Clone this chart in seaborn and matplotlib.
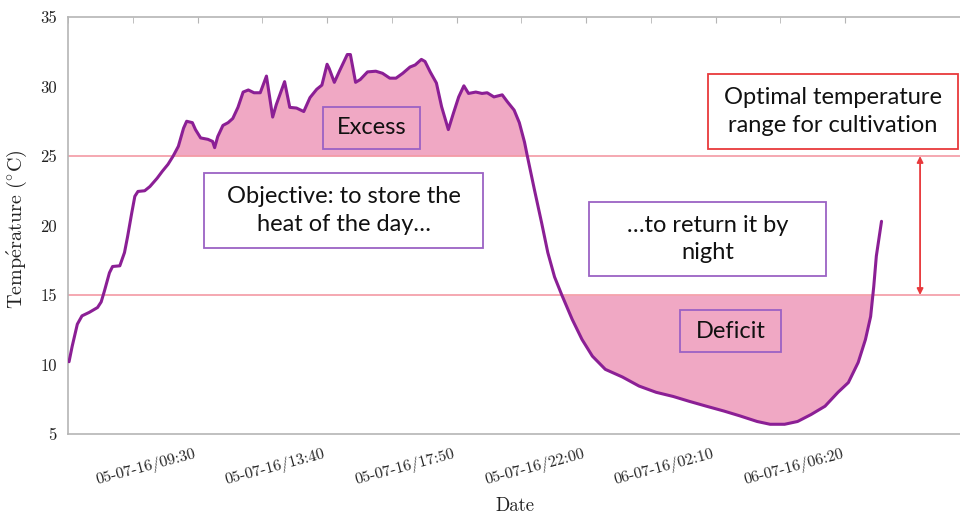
import matplotlib
matplotlib.use("Agg")
import matplotlib.pyplot as plt
import matplotlib.dates as mdates
from matplotlib.patches import Rectangle
from matplotlib.ticker import MultipleLocator
import seaborn as sns
import pandas as pd
import numpy as np

# measured greenhouse temperature, 05-07-16 morning -> 06-07-16 morning
times = [
    "2016-07-05 05:22", "2016-07-05 05:28", "2016-07-05 05:38", "2016-07-05 05:47",
    "2016-07-05 06:01", "2016-07-05 06:17", "2016-07-05 06:24", "2016-07-05 06:30",
    "2016-07-05 06:40", "2016-07-05 06:46", "2016-07-05 07:00", "2016-07-05 07:09",
    "2016-07-05 07:15", "2016-07-05 07:23", "2016-07-05 07:29", "2016-07-05 07:35",
    "2016-07-05 07:48", "2016-07-05 07:58", "2016-07-05 08:12", "2016-07-05 08:22",
    "2016-07-05 08:33", "2016-07-05 08:43", "2016-07-05 08:53", "2016-07-05 09:03",
    "2016-07-05 09:09", "2016-07-05 09:20", "2016-07-05 09:26", "2016-07-05 09:36",
    "2016-07-05 09:50", "2016-07-05 09:59", "2016-07-05 10:03", "2016-07-05 10:09",
    "2016-07-05 10:19", "2016-07-05 10:29", "2016-07-05 10:38", "2016-07-05 10:48",
    "2016-07-05 10:58", "2016-07-05 11:08", "2016-07-05 11:19", "2016-07-05 11:31",
    "2016-07-05 11:43", "2016-07-05 11:55", "2016-07-05 12:02", "2016-07-05 12:18",
    "2016-07-05 12:28", "2016-07-05 12:41", "2016-07-05 12:55", "2016-07-05 13:07",
    "2016-07-05 13:20", "2016-07-05 13:30", "2016-07-05 13:40", "2016-07-05 13:44",
    "2016-07-05 13:54", "2016-07-05 14:05", "2016-07-05 14:19", "2016-07-05 14:25",
    "2016-07-05 14:35", "2016-07-05 14:44", "2016-07-05 14:58", "2016-07-05 15:14",
    "2016-07-05 15:27", "2016-07-05 15:41", "2016-07-05 15:53", "2016-07-05 16:06",
    "2016-07-05 16:20", "2016-07-05 16:30", "2016-07-05 16:42", "2016-07-05 16:49",
    "2016-07-05 16:59", "2016-07-05 17:11", "2016-07-05 17:21", "2016-07-05 17:34",
    "2016-07-05 17:44", "2016-07-05 17:54", "2016-07-05 18:04", "2016-07-05 18:13",
    "2016-07-05 18:27", "2016-07-05 18:39", "2016-07-05 18:49", "2016-07-05 19:02",
    "2016-07-05 19:18", "2016-07-05 19:28", "2016-07-05 19:41", "2016-07-05 19:51",
    "2016-07-05 20:01", "2016-07-05 20:07", "2016-07-05 20:20", "2016-07-05 20:34",
    "2016-07-05 20:46", "2016-07-05 20:59", "2016-07-05 21:13", "2016-07-05 21:33",
    "2016-07-05 21:52", "2016-07-05 22:12", "2016-07-05 22:37", "2016-07-05 23:10",
    "2016-07-05 23:42", "2016-07-06 00:15", "2016-07-06 00:48", "2016-07-06 01:19",
    "2016-07-06 01:52", "2016-07-06 02:26", "2016-07-06 02:57", "2016-07-06 03:30",
    "2016-07-06 03:55", "2016-07-06 04:23", "2016-07-06 04:48", "2016-07-06 05:14",
    "2016-07-06 05:41", "2016-07-06 06:06", "2016-07-06 06:26", "2016-07-06 06:45",
    "2016-07-06 06:59", "2016-07-06 07:09", "2016-07-06 07:15", "2016-07-06 07:20",
    "2016-07-06 07:30",
]
temps = [
    10.2, 11.3, 12.9, 13.5,
    13.75, 14.1, 14.5, 15.25,
    16.6, 17.05, 17.1, 18.05,
    19.2, 20.9, 22.1, 22.45,
    22.5, 22.8, 23.4, 23.9,
    24.4, 25.0, 25.7, 27.0,
    27.5, 27.4, 26.9, 26.3,
    26.2, 26.05, 25.6, 26.4,
    27.2, 27.4, 27.7, 28.5,
    29.6, 29.75, 29.55, 29.55,
    30.75, 27.8, 28.7, 30.35,
    28.5, 28.45, 28.2, 29.2,
    29.8, 30.1, 31.6, 31.3,
    30.3, 31.2, 32.3, 32.3,
    30.3, 30.5, 31.05, 31.1,
    30.95, 30.6, 30.6, 30.95,
    31.4, 31.55, 31.95, 31.8,
    31.05, 30.25, 28.55, 26.9,
    28.1, 29.25, 30.05, 29.5,
    29.6, 29.5, 29.55, 29.25,
    29.4, 28.9, 28.3, 27.4,
    26.0, 24.9, 22.6, 20.2,
    18.05, 16.3, 15.0, 13.25,
    11.8, 10.6, 9.65, 9.1,
    8.45, 8.0, 7.7, 7.35,
    7.0, 6.65, 6.3, 5.9,
    5.7, 5.7, 5.9, 6.4,
    7.0, 8.0, 8.7, 10.15,
    11.8, 13.45, 15.6, 17.8,
    20.3,
]
upper_limit = 25
lower_limit = 15
x_start = "2016-07-05 05:20"
x_end = "2016-07-06 10:20"
first_tick = "2016-07-05 09:30"
night_start = "2016-07-05 18:00"  # only the night part is shaded as deficit

df = pd.DataFrame({"Date": pd.to_datetime(times), "T": temps})

sns.set_style("white")
plt.rcParams["axes.unicode_minus"] = False
plt.rcParams["mathtext.fontset"] = "cm"

line_col = "#8b1f95"
fill_col = "#f0a8c4"
limit_col = "#f49aa4"
box_purple = "#9b62c4"
box_red = "#e8393c"
spine_col = "#b5b5b5"
text_col = "#222222"
serif = ["cmr10", "DejaVu Serif"]
sans = ["Lato", "DejaVu Sans"]

fig = plt.figure(figsize=(9.6, 5.15), dpi=100)
ax = fig.add_axes([68 / 960, 1 - 434 / 515, 1 - 68 / 960 + 0.01, (434 - 17) / 515])

xn = mdates.date2num(df["Date"])
tv = df["T"].to_numpy()
night = (df["Date"] > pd.Timestamp(night_start)).to_numpy()
ax.fill_between(xn, tv, upper_limit, where=tv >= upper_limit, interpolate=True,
                color=fill_col, lw=0, zorder=1)
ax.fill_between(xn, tv, lower_limit, where=(tv <= lower_limit) & night, interpolate=True,
                color=fill_col, lw=0, zorder=1)
ax.axhline(upper_limit, color=limit_col, lw=1.2, zorder=2)
ax.axhline(lower_limit, color=limit_col, lw=1.2, zorder=2)
sns.lineplot(data=df, x="Date", y="T", ax=ax, color=line_col, lw=2.2, zorder=3)

ax.set_xlim(pd.Timestamp(x_start), pd.Timestamp(x_end))
ax.set_ylim(5, 35)

# ticks every 4h10 (labelled) with unlabelled ones halfway
t0 = pd.Timestamp(first_tick)
major = [t0 + pd.Timedelta(minutes=250 * k) for k in range(6)]
minor = [t0 + pd.Timedelta(minutes=125 * k) for k in range(-2, 11)]
ax.set_xticks(major)
ax.set_xticks(minor, minor=True)
ax.xaxis.set_major_formatter(mdates.DateFormatter("%d-%m-%y/%H:%M"))
ax.yaxis.set_major_locator(MultipleLocator(5))
ax.yaxis.set_minor_locator(MultipleLocator(2.5))
ax.tick_params(axis="both", which="both", direction="in", length=4,
               color=spine_col, top=True, right=False, labelcolor=text_col)
ax.tick_params(axis="x", which="major", pad=9, labelsize=11.5)
ax.tick_params(axis="y", which="major", pad=8, labelsize=12)
for lab in ax.get_xticklabels():
    lab.set_rotation(15)
    lab.set_ha("right")
    lab.set_family(serif)
for lab in ax.get_yticklabels():
    lab.set_family(serif)

for side in ["left", "bottom", "top"]:
    ax.spines[side].set_color(spine_col)
    ax.spines[side].set_linewidth(1.2)
ax.spines["right"].set_visible(False)

ax.set_xlabel("Date", family=serif, fontsize=13.5, color=text_col)
ax.xaxis.set_label_coords((510 - 68) / 892, -0.152)
ax.set_ylabel(r"$\mathrm{Temp\acute{e}rature\ (^{\circ}C)}$", fontsize=14.5, color=text_col)
ax.yaxis.set_label_coords(-0.043, 0.49)


def px(x, y):
    return x / 960, 1 - y / 515


def box(x0, y0, x1, y1, text, edge, face):
    (fx0, fy1), (fx1, fy0) = px(x0, y0), px(x1, y1)
    fig.patches.append(Rectangle((fx0, fy0), fx1 - fx0, fy1 - fy0, transform=fig.transFigure,
                                 facecolor=face, edgecolor=edge, lw=1.3, zorder=5))
    cx, cy = px((x0 + x1) / 2, (y0 + y1) / 2)
    fig.text(cx, cy, text, ha="center", va="center", fontsize=17, family=sans,
             color="#111111", linespacing=1.38, zorder=6)


box(323, 107, 420, 149, "Excess", box_purple, "none")
box(204, 173, 483, 248, "Objective: to store the\nheat of the day…", box_purple, "white")
box(589, 202, 826, 276, "…to return it by\nnight", box_purple, "white")
box(680, 310, 781, 352, "Deficit", box_purple, "none")
box(708, 74, 958, 149, "Optimal temperature\nrange for cultivation", box_red, "white")

arrow_x = (911 - 68) / 892
ax.annotate("", xy=(arrow_x, upper_limit), xytext=(arrow_x, lower_limit),
            xycoords=("axes fraction", "data"), textcoords=("axes fraction", "data"),
            arrowprops=dict(arrowstyle="<|-|>", color=box_red, lw=1.3,
                            mutation_scale=9, shrinkA=0, shrinkB=0))

fig.savefig("out.png", dpi=100)
